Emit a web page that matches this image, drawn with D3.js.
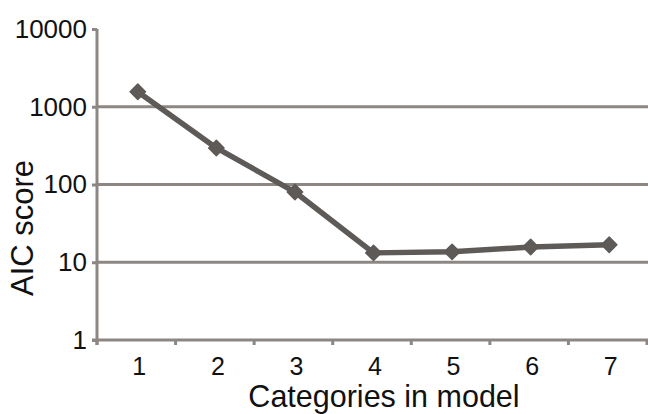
<!DOCTYPE html>
<html>
<head>
<meta charset="utf-8">
<script src="https://cdn.jsdelivr.net/npm/d3@7"></script>
<style>
  html, body { margin: 0; padding: 0; background: #fff; }
  svg { display: block; font-family: "Liberation Sans", Arial, Helvetica, sans-serif; }
</style>
</head>
<body>
<svg id="chart" width="648" height="414"></svg>
<script>
// Number of categories in the model vs. AIC score (log scale)
const categories = ["1", "2", "3", "4", "5", "6", "7"];
const aicScores = [1560, 295, 80, 13.2, 13.6, 15.7, 16.8];
const yTickValues = [1, 10, 100, 1000, 10000];
const yTickLabels = ["1", "10", "100", "1000", "10000"];
const gridValues = [10, 100, 1000];

const svg = d3.select("#chart");
const plotLeft = 97, plotRight = 647, plotTop = 29, plotBottom = 340;
const axisColor = "#8c8783";
const lineColor = "#5e5a57";

const x = d3.scaleBand().domain(categories).range([plotLeft, plotRight]).padding(0);
const y = d3.scaleLog().domain([1, 10000]).range([plotBottom, plotTop]);

// horizontal gridlines
svg.append("g").selectAll("line").data(gridValues).join("line")
  .attr("x1", plotLeft).attr("x2", 648)
  .attr("y1", d => y(d)).attr("y2", d => y(d))
  .attr("stroke", axisColor).attr("stroke-width", 3);

// y axis
const yAxis = svg.append("g").attr("transform", `translate(${plotLeft},0)`)
  .call(d3.axisLeft(y).tickValues(yTickValues)
    .tickFormat((d, i) => yTickLabels[i]).tickSize(5).tickPadding(5));
yAxis.select(".domain").attr("stroke", axisColor).attr("stroke-width", 3)
  .attr("d", `M0,${plotTop}V${plotBottom + 5}`);
yAxis.selectAll(".tick line").attr("stroke", axisColor).attr("stroke-width", 3);
yAxis.selectAll(".tick text").attr("fill", "#111").style("font-size", "26px")
  .style("font-family", "Liberation Sans, Arial, sans-serif");

// x axis: labels at category centres, ticks on band boundaries
const xAxis = svg.append("g").attr("transform", `translate(0,${plotBottom})`)
  .call(d3.axisBottom(x).tickSize(0).tickPadding(17));
xAxis.select(".domain").attr("stroke", axisColor).attr("stroke-width", 3)
  .attr("d", `M${plotLeft - 5},0H648`);
xAxis.selectAll(".tick text").attr("fill", "#111").attr("dx", 3)
  .style("font-size", "25px")
  .style("font-family", "Liberation Sans, Arial, sans-serif");
const boundaries = categories.map(c => x(c)).concat([x(categories[categories.length - 1]) + x.bandwidth()]);
xAxis.append("g").selectAll("line").data(boundaries).join("line")
  .attr("x1", d => d).attr("x2", d => d).attr("y1", 0).attr("y2", 5)
  .attr("stroke", axisColor).attr("stroke-width", 3);

// series line
const cx = c => x(c) + x.bandwidth() / 2 + 1.5;
const pts = categories.map((c, i) => [cx(c), y(aicScores[i])]);
svg.append("path").datum(pts)
  .attr("d", d3.line())
  .attr("fill", "none").attr("stroke", lineColor)
  .attr("stroke-width", 5.5).attr("stroke-linejoin", "round");

// diamond markers
svg.append("g").selectAll("path").data(pts).join("path")
  .attr("transform", d => `translate(${d[0]},${d[1]})`)
  .attr("d", d3.symbol(d3.symbolDiamond2, 150)())
  .attr("fill", lineColor).attr("stroke", lineColor)
  .attr("stroke-width", 1.5).attr("stroke-linejoin", "round");

// axis titles
svg.append("text").attr("x", 384).attr("y", 407).attr("text-anchor", "middle")
  .attr("fill", "#111").style("font-size", "30.5px").text("Categories in model");
svg.append("text").attr("transform", "translate(33,228) rotate(-90)")
  .attr("text-anchor", "middle").attr("fill", "#111")
  .style("font-size", "31px").text("AIC score");
</script>
</body>
</html>
